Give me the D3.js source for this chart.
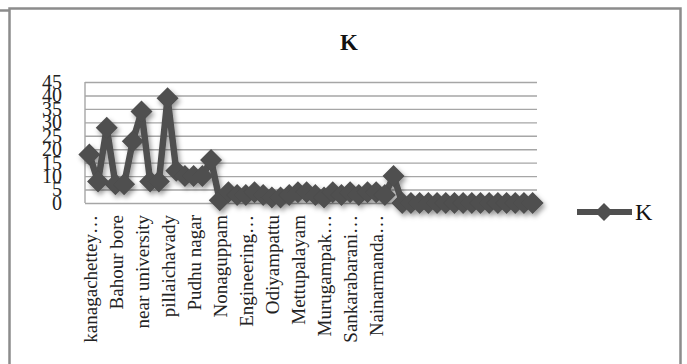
<!doctype html>
<html>
  <head>
    <meta charset="utf-8">
    <style>
      body { margin: 0; background: #fff; }
      svg { display: block; }
      .axis text { font-family: "Liberation Serif", "Times New Roman", serif; fill: #222; }
      .grid line { stroke: #a6a6a6; stroke-width: 1.4px; }
      .grid path { display: none; }
    </style>
  </head>
  <body>
    <svg width="687" height="364"></svg>
    <script src="https://cdnjs.cloudflare.com/ajax/libs/d3/7.8.5/d3.min.js"></script>
    <script>

      // visible category labels (Excel shows every 3rd one)
      var tickLabels = ["kanagachettey…", "Bahour bore", "near university", "pillaichavady",
        "Pudhu nagar", "Nonaguppam", "Engineering…", "Odiyampattu", "Mettupalayam",
        "Murugampak…", "Sankarabarani…", "Nainarmanda…"];

      // series K, one value per location
      var valuesK = [18, 8, 28, 7, 7, 23, 34, 8, 8, 39, 12, 10, 10, 10, 16, 1, 4, 3, 3, 4,
        3, 2, 2, 3, 4, 4, 3, 2, 4, 3, 4, 3, 4, 4, 3, 10, 0, 0, 0, 0,
        0, 0, 0, 0, 0, 0, 0, 0, 0, 0, 0, 0];

      var yTicks = [0, 5, 10, 15, 20, 25, 30, 35, 40, 45];

      var svg = d3.select("svg"),
        plotLeft = 85, plotRight = 537, plotTop = 82, plotBottom = 203;

      var x = d3.scalePoint().domain(d3.range(valuesK.length)).range([plotLeft, plotRight]).padding(0.5);
      var y = d3.scaleLinear().domain([0, 45]).range([plotBottom, plotTop]);

      // outer frame
      svg.append("path")
        .attr("d", "M0,10.5H9.5V8.5H680.5V364M9.5,10.5V364")
        .attr("fill", "none")
        .attr("stroke", "#8c8c8c")
        .attr("stroke-width", 2.5);

      var defs = svg.append("defs");
      var f = defs.append("filter").attr("id", "shadow")
        .attr("x", "-20%").attr("y", "-20%").attr("width", "140%").attr("height", "140%");
      f.append("feDropShadow")
        .attr("dx", 2).attr("dy", 3).attr("stdDeviation", 2.5)
        .attr("flood-color", "#000").attr("flood-opacity", 0.4);

      // title
      svg.append("text")
        .attr("x", 349)
        .attr("y", 50)
        .attr("text-anchor", "middle")
        .style("font", "bold 23px 'Liberation Serif', serif")
        .style("fill", "#111")
        .text("K");

      // gridlines
      svg.append("g")
        .attr("class", "grid")
        .attr("transform", "translate(" + plotLeft + ",0)")
        .call(d3.axisLeft(y).tickValues(yTicks).tickSize(-(plotRight - plotLeft)).tickFormat(""));

      // plot left edge
      svg.append("line")
        .attr("x1", plotLeft).attr("x2", plotLeft).attr("y1", plotTop).attr("y2", plotBottom)
        .attr("stroke", "#a6a6a6").attr("stroke-width", 1.4);

      // y axis labels
      svg.append("g")
        .attr("class", "axis")
        .attr("transform", "translate(" + plotLeft + ",0)")
        .call(d3.axisLeft(y).tickValues(yTicks).tickSize(0).tickPadding(23))
        .call(function(g) { g.select(".domain").remove(); })
        .selectAll("text")
          .style("font-size", "20px");

      // x axis labels, rotated
      svg.append("g")
        .attr("class", "axis")
        .attr("transform", "translate(0," + plotBottom + ")")
        .call(d3.axisBottom(x)
          .tickValues(tickLabels.map(function(d, i) { return i * 3; }))
          .tickSize(0)
          .tickFormat(function(d) { return tickLabels[d / 3]; }))
        .call(function(g) { g.select(".domain").remove(); })
        .selectAll("text")
          .attr("transform", "rotate(-90)")
          .attr("text-anchor", "end")
          .attr("x", -12)
          .attr("y", 0)
          .attr("dy", "0.35em")
          .style("font-size", "19px");

      var diamond = function(s) { return "M0," + (-s) + "L" + s + ",0L0," + s + "L" + (-s) + ",0Z"; };

      var line = d3.line()
        .x(function(d, i) { return x(i); })
        .y(function(d) { return y(d); });

      var series = svg.append("g").attr("filter", "url(#shadow)");

      series.append("path")
        .datum(valuesK)
        .attr("fill", "none")
        .attr("stroke", "#4f4f4f")
        .attr("stroke-width", 6.5)
        .attr("stroke-linejoin", "round")
        .attr("d", line);

      series.selectAll(".pt")
        .data(valuesK)
        .enter().append("path")
          .attr("class", "pt")
          .attr("transform", function(d, i) { return "translate(" + x(i) + "," + y(d) + ")"; })
          .attr("d", diamond(11))
          .attr("fill", "#4f4f4f");

      // legend
      var lg = svg.append("g").attr("transform", "translate(577,212)");
      lg.append("line")
        .attr("x1", 0).attr("x2", 55)
        .attr("stroke", "#4f4f4f").attr("stroke-width", 6);
      lg.append("path")
        .attr("transform", "translate(27,0)")
        .attr("d", diamond(9))
        .attr("fill", "#4f4f4f");
      lg.append("text")
        .attr("x", 58)
        .attr("dy", "0.35em")
        .style("font", "24px 'Liberation Serif', serif")
        .style("fill", "#111")
        .text("K");

    </script>
  </body>
</html>
